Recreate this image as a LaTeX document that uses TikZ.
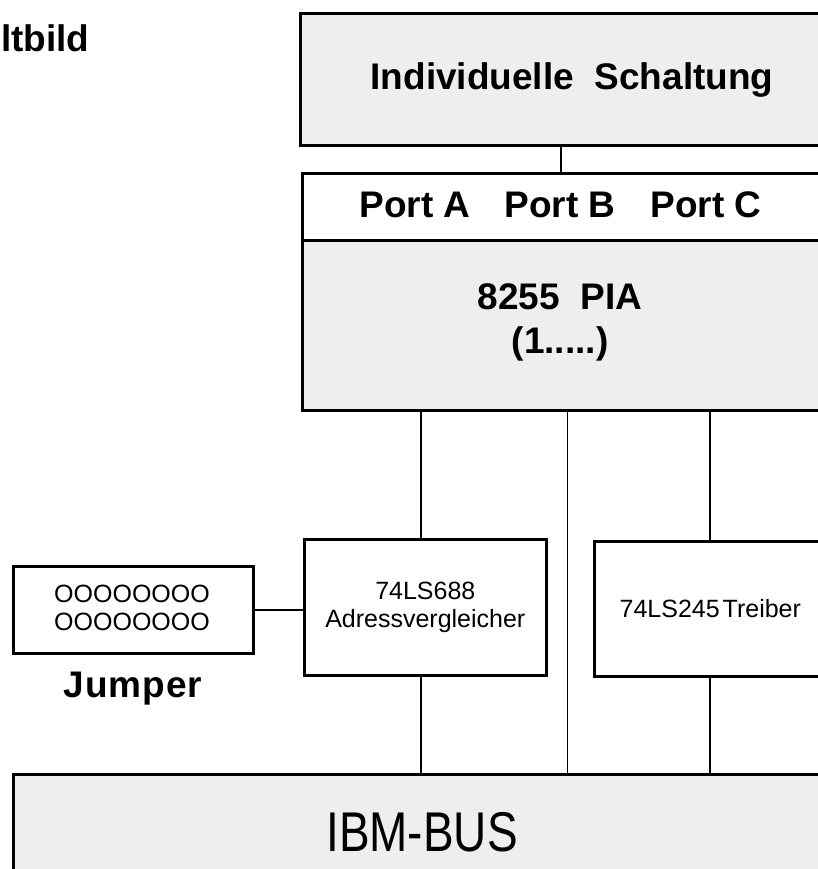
\documentclass[tikz,border=0pt]{standalone}
\usepackage{fontspec}
\setmainfont{Liberation Sans}
\definecolor{boxgray}{RGB}{238,238,238}
\begin{document}
\begin{tikzpicture}[x=1pt,y=-1pt,
  box/.style={draw=black,line width=2.6pt,inner sep=0pt,anchor=north west},
  conn/.style={line width=2pt},
  thin/.style={line width=1pt},
  big/.style={font=\fontsize{37}{44}\selectfont\bfseries},
  small/.style={font=\fontsize{25}{28}\selectfont}]
\clip (0,0) rectangle (818,869);
\fill[white] (0,0) rectangle (818,869);
% title (only its end is visible)
\node[big,anchor=base west,inner sep=0pt] (title) at (1,52) {ltbild};
% top box
\node[box,fill=boxgray,minimum width=546pt,minimum height=132pt] (top) at (299,12) {};
\node[big] (toptext) at (572,80) {Individuelle\ \ Schaltung};
% port row + PIA
\node[box,fill=white,minimum width=518pt,minimum height=67pt] (portrow) at (301,172) {};
\node[box,fill=boxgray,minimum width=518pt,minimum height=170pt] (pia) at (301,239) {};
\node[big] (pA) at (415,205) {Port A};
\node[big] (pB) at (560,205) {Port B};
\node[big] (pC) at (706,205) {Port C};
\node[big,align=center] (piatext) at (560,322) {8255\ \ PIA\\(1.....)};
% jumper
\node[box,fill=white,minimum width=240pt,minimum height=87pt] (jumper) at (12,565) {};
\node[small,align=center] (jtext) at (132,608) {OOOOOOOO\\OOOOOOOO};
\node[big,anchor=base] (jlabel) at (133,697) {J\kern1pt u\kern1pt m\kern1pt p\kern1pt e\kern1pt r};
% address comparator
\node[box,fill=white,minimum width=242pt,minimum height=136pt,align=center,small] (addr) at (303,538) {74LS688\\Adressvergleicher};
% driver
\node[box,fill=white,minimum width=232pt,minimum height=135pt,small] (treiber) at (593,540) {74LS245\kern3pt Treiber};
% bus
\node[box,fill=boxgray,minimum width=820pt,minimum height=120pt] (bus) at (12,773) {};
\node[font=\fontsize{56}{60}\selectfont] (bustext) at (422,832) {\scalebox{0.82}[1]{IBM-BUS}};
% connectors
\draw[conn] (top.south -| portrow.north) -- (portrow.north);
\draw[conn] (pia.south -| 421,0) -- (addr.north -| 421,0);
\draw[conn] (addr.south -| 421,0) -- (bus.north -| 421,0);
\draw[thin] (pia.south -| 567,0) -- (bus.north -| 567,0);
\draw[conn] (pia.south -| treiber.north) -- (treiber.north);
\draw[conn] (treiber.south) -- (bus.north -| treiber.south);
\draw[conn] (jumper.east) -- (addr.west |- jumper.east);
\end{tikzpicture}
\end{document}
